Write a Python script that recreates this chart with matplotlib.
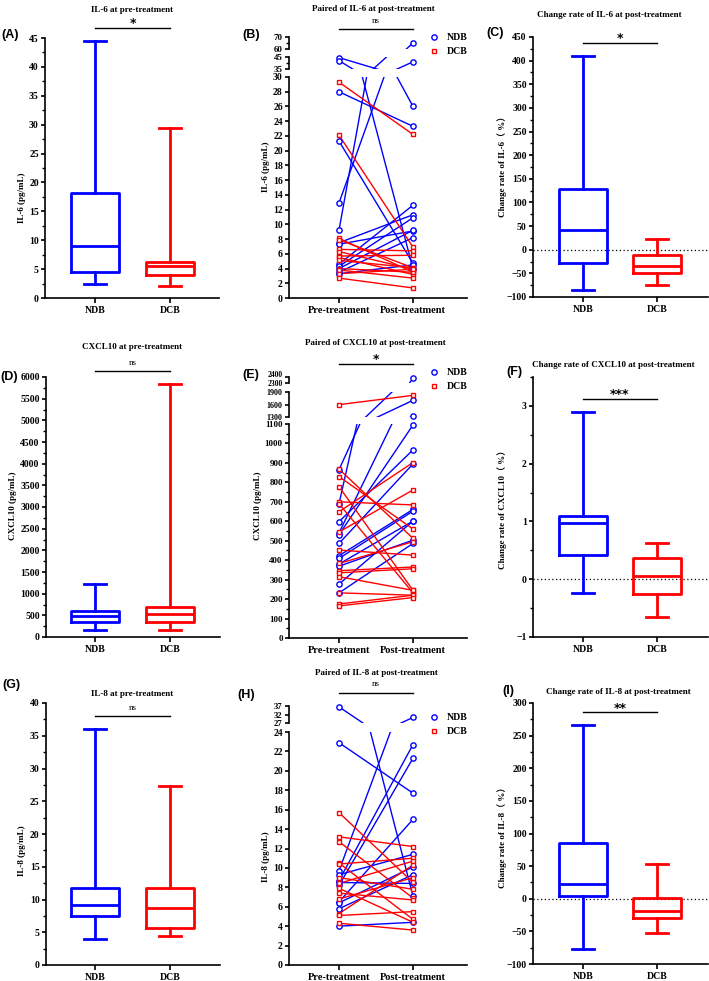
import matplotlib
matplotlib.use('Agg')
import matplotlib.pyplot as plt
import matplotlib.transforms as mtransforms
from matplotlib.ticker import MultipleLocator, FixedLocator
from matplotlib.lines import Line2D

# ---------------- data ----------------
groups = ['NDB', 'DCB']
paired_labels = ['Pre-treatment', 'Post-treatment']

# box summaries: [whisker low, Q1, median, Q3, whisker high]
il6_pre_ndb = [2.5, 4.5, 9.0, 18.2, 44.4]
il6_pre_dcb = [2.1, 3.9, 5.5, 6.3, 29.4]
il6_rate_ndb = [-85, -29, 41, 128, 409]
il6_rate_dcb = [-74, -50, -34, -11, 23]
cx_pre_ndb = [169, 346, 485, 600, 1231]
cx_pre_dcb = [154, 346, 538, 685, 5846]
cx_rate_ndb = [-0.23, 0.42, 0.975, 1.09, 2.89]
cx_rate_dcb = [-0.65, -0.25, 0.05, 0.36, 0.63]
il8_pre_ndb = [4.0, 7.5, 9.2, 11.7, 36.1]
il8_pre_dcb = [4.4, 5.7, 8.7, 11.8, 27.3]
il8_rate_ndb = [-77, 4.6, 22.5, 86, 266]
il8_rate_dcb = [-52, -30, -18.4, 0.5, 54]

# paired values
il6_ndb_pre = [44.5, 42.0, 28.0, 21.3, 12.9, 9.2, 7.5, 7.3, 4.6, 4.3, 4.0, 3.5, 3.3]
il6_ndb_post = [26.0, 4.0, 23.3, 4.7, 41.0, 65.0, 11.3, 9.1, 12.6, 10.9, 9.2, 8.2, 4.5]
il6_dcb_pre = [29.3, 22.1, 8.1, 7.9, 6.6, 6.3, 5.7, 5.5, 5.1, 4.0, 3.8, 3.3, 2.7]
il6_dcb_post = [22.2, 6.9, 3.5, 4.1, 6.4, 3.9, 5.8, 3.2, 4.1, 3.5, 2.7, 3.9, 1.36]

cx_ndb_pre = [865, 690, 598, 540, 531, 486, 423, 409, 380, 369, 277, 232]
cx_ndb_post = [1700, 2380, 967, 1324, 1095, 895, 661, 652, 601, 503, 601, 486]
cx_dcb_pre = [1596, 868, 830, 778, 700, 690, 649, 545, 452, 383, 346, 335, 315, 232, 175, 165]
cx_dcb_post = [1820, 512, 560, 245, 684, 232, 902, 761, 426, 495, 365, 356, 245, 220, 220, 208]

il8_ndb_pre = [36.5, 22.9, 9.7, 9.3, 8.7, 8.5, 8.2, 6.5, 6.4, 5.8, 4.0]
il8_ndb_post = [7.1, 17.7, 30.3, 11.4, 22.7, 8.4, 21.3, 15.0, 10.1, 9.3, 4.4]
il8_dcb_pre = [15.7, 13.2, 12.7, 10.5, 10.4, 9.0, 8.4, 7.9, 7.4, 6.8, 5.3, 5.1, 4.3]
il8_dcb_post = [8.5, 12.2, 6.9, 4.7, 11.0, 7.8, 10.7, 4.4, 6.7, 9.0, 10.3, 5.5, 3.6]

# ---------------- style ----------------
SERIF = ['Liberation Serif', 'Noto Sans CJK SC', 'DejaVu Serif']
plt.rcParams['font.family'] = SERIF
plt.rcParams['font.weight'] = 'bold'
plt.rcParams['axes.linewidth'] = 1.2
plt.rcParams['xtick.major.width'] = 1.2
plt.rcParams['ytick.major.width'] = 1.2
plt.rcParams['ytick.minor.width'] = 1.0
plt.rcParams['xtick.major.size'] = 3.5
plt.rcParams['ytick.major.size'] = 3.0
plt.rcParams['ytick.minor.size'] = 2.0
plt.rcParams['xtick.labelsize'] = 7
plt.rcParams['ytick.labelsize'] = 7
plt.rcParams['xtick.major.pad'] = 2
plt.rcParams['ytick.major.pad'] = 1.5

BLUE = '#0000FF'
RED = '#FF0000'
W, H = 709, 981
fig = plt.figure(figsize=(W / 100, H / 100), dpi=100)


def add_ax(x0, x1, ytop, ybot):
    ax = fig.add_axes([x0 / W, 1 - ybot / H, (x1 - x0) / W, (ybot - ytop) / H])
    ax.spines['top'].set_visible(False)
    ax.spines['right'].set_visible(False)
    ax.patch.set_visible(False)
    return ax


def ftext(x, y, s, **kw):
    return fig.text(x / W, 1 - y / H, s, **kw)


def ylabel(ax, s, xpx, ypx):
    ax.set_ylabel(s, fontsize=6.5, fontweight='bold')
    bb = ax.get_position()
    xf = (xpx / W - bb.x0) / bb.width
    yf = ((1 - ypx / H) - bb.y0) / bb.height
    ax.yaxis.set_label_coords(xf, yf)
    ax.yaxis.label.set_va('center')


def sig(ax, ypx, text, tpx, star=True):
    tr = mtransforms.blended_transform_factory(ax.transData, fig.transFigure)
    ax.plot([0, 1], [1 - ypx / H, 1 - ypx / H], color='black', lw=1.0,
            transform=tr, clip_on=False)
    if star:
        # asterisk glyph sits high above its baseline: put baseline near the bar
        ax.text(0.5, 1 - (tpx + 7) / H, text, transform=tr, ha='center', va='baseline',
                fontsize=9, fontweight='bold', family=['DejaVu Sans'])
    else:
        ax.text(0.5, 1 - tpx / H, text, transform=tr, ha='center', va='center',
                fontsize=6.5, fontweight='normal')


def box_panel(x0, x1, ytop, ybot, ndb, dcb, ylim, major, minor, xc0, xc1):
    ax = add_ax(x0, x1, ytop, ybot)
    upp = xc1 - xc0
    ax.set_xlim(-(xc0 - x0) / upp, (x1 - xc0) / upp)
    for pos, s, c in [(0, ndb, BLUE), (1, dcb, RED)]:
        st = [dict(whislo=s[0], q1=s[1], med=s[2], q3=s[3], whishi=s[4], fliers=[])]
        kw = dict(color=c, linewidth=2.0)
        ax.bxp(st, positions=[pos], widths=0.64, capwidths=0.3, showfliers=False,
               boxprops=kw, whiskerprops=kw, capprops=kw, medianprops=kw,
               manage_ticks=False)
    ax.set_ylim(*ylim)
    ax.yaxis.set_major_locator(MultipleLocator(major))
    ax.yaxis.set_minor_locator(MultipleLocator(minor))
    ax.set_xticks([0, 1])
    ax.set_xticklabels(groups, fontweight='bold')
    for lab in ax.get_yticklabels():
        lab.set_fontweight('bold')
    return ax


def paired_panel(segs, npre, npost, dpre, dpost, x0=289, x1=467, xc0=339, xc1=413):
    upp = xc1 - xc0
    axes = []
    for i, (lo, hi, tp, bp, ticks, minors, fs) in enumerate(segs):
        ax = add_ax(x0, x1, tp, bp)
        ax.set_xlim(-(xc0 - x0) / upp, (x1 - xc0) / upp)
        ax.set_ylim(lo, hi)
        ax.yaxis.set_major_locator(FixedLocator(ticks))
        if minors:
            ax.yaxis.set_minor_locator(FixedLocator(minors))
        ax.tick_params(axis='y', labelsize=fs)
        for lab in ax.get_yticklabels():
            lab.set_fontweight('bold')
        for pre, post, c in [(npre, npost, BLUE), (dpre, dpost, RED)]:
            for a, b in zip(pre, post):
                ax.plot([0, 1], [a, b], color=c, lw=1.0, zorder=2)
        for pre, post, c, m, ms in [(npre, npost, BLUE, 'o', 3.8), (dpre, dpost, RED, 's', 3.2)]:
            for xv, vals in [(0, pre), (1, post)]:
                pts = [v for v in vals if lo <= v <= hi]
                if pts:
                    ax.plot([xv] * len(pts), pts, ls='none', marker=m, ms=ms, mfc='white',
                            mec=c, mew=1.0, clip_on=False, zorder=3)
        if i == 0:
            ax.set_xticks([0, 1])
            ax.set_xticklabels(paired_labels, fontweight='bold', fontsize=7.5)
        else:
            ax.spines['bottom'].set_visible(False)
            ax.set_xticks([])
        axes.append(ax)
    return axes


def legend(ypx):
    h = [Line2D([], [], ls='none', marker='o', ms=3.8, mfc='white', mec=BLUE, mew=1.0),
         Line2D([], [], ls='none', marker='s', ms=3.2, mfc='white', mec=RED, mew=1.0)]
    lg = fig.legend(h, groups, loc='upper left', bbox_to_anchor=(429 / W, 1 - ypx / H),
                    bbox_transform=fig.transFigure, frameon=False,
                    handlelength=1.0, handletextpad=0.8, labelspacing=0.55,
                    borderpad=0, borderaxespad=0, prop=dict(weight='bold', size=7))
    lg.set_zorder(10)


def title(xc, y, s):
    ftext(xc, y, s, ha='center', va='center', fontsize=6.5, fontweight='bold')


def plabel(x, y, s):
    ftext(x, y, s, ha='left', va='center', fontsize=9, fontweight='bold',
          family=['Liberation Sans', 'DejaVu Sans'])


# ---------------- row 1 ----------------
axA = box_panel(45, 219, 38, 298, il6_pre_ndb, il6_pre_dcb, (0, 45), 5, 2.5, 95, 170)
ylabel(axA, 'IL-6 (pg/mL)', 22, 198)
sig(axA, 28, '*', 20)
title(132, 10.5, 'IL-6 at pre-treatment')
plabel(1, 35, '(A)')

segsB = [(0, 30, 77, 298, list(range(0, 31, 2)), None, 7),
         (35, 45, 57, 69, [35, 45], [40], 6.5),
         (60, 70, 37, 49, [60, 70], [65], 6.5)]
axB = paired_panel(segsB, il6_ndb_pre, il6_ndb_post, il6_dcb_pre, il6_dcb_post)
ylabel(axB[0], 'IL-6 (pg/mL)', 266, 167)
sig(axB[0], 29, 'ns', 21, star=False)
legend(33)
title(373, 9, 'Paired of IL-6 at post-treatment')
plabel(242, 35, '(B)')

axC = box_panel(533, 708, 37, 297, il6_rate_ndb, il6_rate_dcb, (-100, 450), 50, 25, 583, 657)
axC.axhline(0, color='black', lw=0.9, ls=(0, (1, 2)), zorder=0)
ylabel(axC, 'Change rate of IL-6（ %）', 502, 164)
sig(axC, 43, '*', 35)
title(609, 15, 'Change rate of IL-6 at post-treatment')
plabel(486, 33, '(C)')

# ---------------- row 2 ----------------
axD = box_panel(46, 220, 377, 637, cx_pre_ndb, cx_pre_dcb, (0, 6000), 500, 250, 95, 170)
ylabel(axD, 'CXCL10 (pg/mL)', 13, 506)
sig(axD, 371, 'ns', 363, star=False)
title(132, 347, 'CXCL10 at pre-treatment')
plabel(0, 377, '(D)')

segsE = [(0, 1100, 424, 638, list(range(0, 1101, 100)), list(range(50, 1100, 100)), 6.5),
         (1300, 1900, 392, 417, [1300, 1600, 1900], None, 5.8),
         (2300, 2400, 377, 383, [2300, 2400], None, 5.5)]
axE = paired_panel(segsE, cx_ndb_pre, cx_ndb_post, cx_dcb_pre, cx_dcb_post)
# the two labels of the thin top segment sit 6 px apart: lift the upper one slightly
for lab in axE[2].get_yticklabels():
    if lab.get_text() == '2400':
        lab.set_va('baseline')
ylabel(axE[0], 'CXCL10 (pg/mL)', 258, 506)
sig(axE[0], 364, '*', 356)
legend(368)
title(375, 343, 'Paired of CXCL10 at post-treatment')
plabel(242, 375, '(E)')

axF = box_panel(533, 708, 377, 637, cx_rate_ndb, cx_rate_dcb, (-1, 3.5), 1, 0.5, 583, 657)
axF.axhline(0, color='black', lw=0.9, ls=(0, (1, 2)), zorder=0)
ylabel(axF, 'Change rate of CXCL10（ %）', 502, 507)
sig(axF, 399, '***', 391)
title(613, 365, 'Change rate of CXCL10 at post-treatment')
plabel(506, 372, '(F)')

# ---------------- row 3 ----------------
axG = box_panel(46, 220, 703, 965, il8_pre_ndb, il8_pre_dcb, (0, 40), 5, 2.5, 95, 170)
ylabel(axG, 'IL-8 (pg/mL)', 22, 851)
sig(axG, 716, 'ns', 708, star=False)
title(132, 694, 'IL-8 at pre-treatment')
plabel(2, 685, '(G)')

segsH = [(0, 24, 732, 965, list(range(0, 25, 2)), None, 7),
         (27, 37, 706, 723, [27, 32, 37], None, 6.2)]
axH = paired_panel(segsH, il8_ndb_pre, il8_ndb_post, il8_dcb_pre, il8_dcb_post)
ylabel(axH[0], 'IL-8 (pg/mL)', 266, 857)
sig(axH[0], 693, 'ns', 684, star=False)
legend(713)
title(376, 673, 'Paired of IL-8 at post-treatment')
plabel(237, 695, '(H)')

axI = box_panel(533, 708, 703, 964, il8_rate_ndb, il8_rate_dcb, (-100, 300), 50, 25, 583, 657)
axI.axhline(0, color='black', lw=0.9, ls=(0, (1, 2)), zorder=0)
ylabel(axI, 'Change rate of IL-8（ %）', 502, 835)
sig(axI, 712, '**', 705)
title(618, 692, 'Change rate of IL-8 at post-treatment')
plabel(502, 691, '(I)')

fig.savefig('out.png', dpi=100)
